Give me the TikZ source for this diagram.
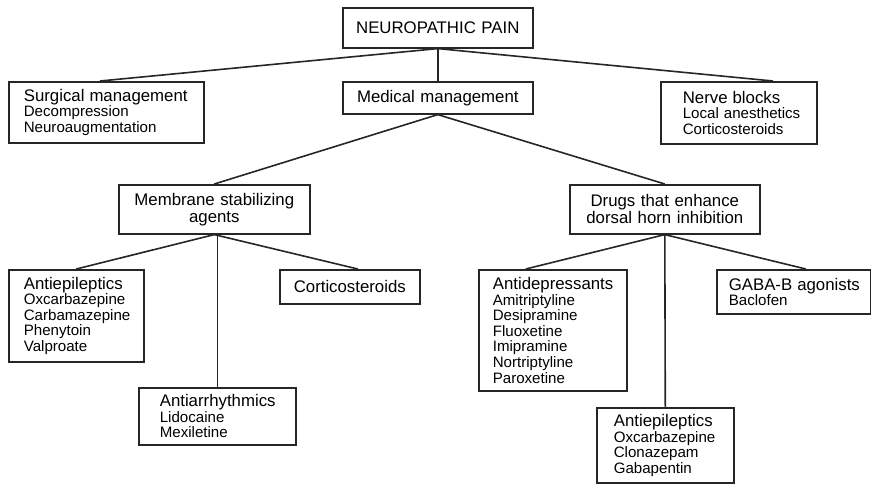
\documentclass[tikz,border=0pt]{standalone}
\usepackage{fontspec}
\setmainfont{Liberation Sans}
\newcommand{\hd}{\fontsize{16.8}{17}\selectfont}
\newcommand{\itm}{\fontsize{15.1}{15.6}\selectfont}
\tikzset{
  box/.style={draw=black!85, line width=1.6pt, anchor=north west, inner ysep=0pt, font=\itm},
  lbox/.style={box, align=left},
  cbox/.style={box, align=center, font=\hd, inner xsep=2pt},
  link/.style={draw=black!85, line width=1.6pt},
}
\begin{document}
\begin{tikzpicture}[x=1pt,y=1pt]
\useasboundingbox (0,0) rectangle (871,-483);
% level 0/1
\node[cbox, text width=186pt, minimum height=40pt] (np) at (342,-7) {NEUROPATHIC PAIN};
\node[cbox, text width=186pt, minimum height=32pt] (med) at (342,-81) {Medical management};
\node[lbox, text width=165pt, inner xsep=15pt, minimum height=61pt] (surg) at (8,-81)
  {\mbox{\hd Surgical management}\\Decompression\\Neuroaugmentation};
\node[lbox, text width=112pt, inner xsep=22pt, minimum height=62pt] (nerve) at (660,-81)
  {\mbox{\hd Nerve blocks}\\\mbox{Local anesthetics}\\Corticosteroids};
% level 2
\node[cbox, text width=187pt, minimum height=49pt] (mem) at (118,-184) {Membrane stabilizing\\agents};
\node[cbox, text width=186pt, minimum height=49pt] (drugs) at (569,-184) {Drugs that enhance\\dorsal horn inhibition};
% level 3 left
\node[lbox, text width=105pt, inner xsep=15pt, minimum height=92pt] (aep1) at (8,-269)
  {\mbox{\hd Antiepileptics}\\\mbox{Oxcarbazepine}\\\mbox{Carbamazepine}\\Phenytoin\\Valproate};
\node[cbox, text width=136pt, minimum height=34pt] (cort) at (279,-269) {Corticosteroids};
\node[lbox, text width=115pt, inner xsep=21pt, minimum height=57pt] (arr) at (138,-387)
  {\mbox{\hd Antiarrhythmics}\\Lidocaine\\Mexiletine};
% level 3 right
\node[lbox, text width=120pt, inner xsep=14pt, minimum height=121pt] (adep) at (478,-269)
  {\mbox{\hd Antidepressants}\\Amitriptyline\\Desipramine\\Fluoxetine\\Imipramine\\Nortriptyline\\Paroxetine};
\node[lbox, text width=130pt, inner xsep=12pt, minimum height=44pt] (gaba) at (716,-269)
  {\mbox{\hd GABA-B agonists}\\Baclofen};
\node[lbox, text width=103pt, inner xsep=17pt, minimum height=75pt] (aep2) at (596,-407)
  {\mbox{\hd Antiepileptics}\\\mbox{Oxcarbazepine}\\Clonazepam\\Gabapentin};
% connectors
\draw[link] (np.south) -- ([xshift=92pt]surg.north west);
\draw[link] (np.south) -- (med.north);
\draw[link] (np.south) -- ([xshift=113pt]nerve.north west);
\draw[link] (med.south) -- (mem.north);
\draw[link] (med.south) -- (drugs.north);
\draw[link] (mem.south) -- (aep1.north);
\draw[link] (arr.north |- mem.south) -- (arr.north);
\draw[link] (mem.south) -- ([xshift=8pt]cort.north);
\draw[link] (drugs.south) -- ([xshift=-27pt]adep.north);
\draw[link] (drugs.south) -- (aep2.north);
\draw[link] (drugs.south) -- ([xshift=12pt]gaba.north);
\end{tikzpicture}
\end{document}
